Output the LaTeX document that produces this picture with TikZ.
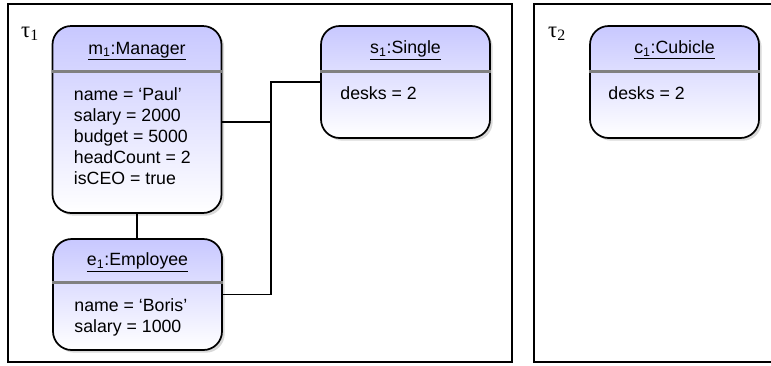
\documentclass[tikz,border=0pt]{standalone}
\usepackage{fontspec}
\setmainfont{Liberation Sans}
\newfontfamily\taufont{Liberation Serif}
\usetikzlibrary{calc,shadows}

\definecolor{objtop}{RGB}{200,200,255}
\definecolor{objmid}{RGB}{226,226,255}

\tikzset{
  objbox/.style={draw, line width=1.3pt, rounded corners=14pt, minimum width=126.75pt,
    inner sep=0pt, top color=objtop, middle color=objmid, bottom color=white,
    drop shadow={opacity=0.3, shadow xshift=2pt, shadow yshift=-2pt}},
  objsep/.style={draw=gray, line width=2.2pt},
  objtitle/.style={font=\fontsize{13.3}{15.75}\selectfont, inner sep=0pt},
  attrs/.style={font=\fontsize{13.3}{15.75}\selectfont, align=left, anchor=north west, inner sep=0pt},
  statelabel/.style={font=\taufont\fontsize{17}{20}\selectfont, inner sep=0pt},
  frame/.style={line width=1.3pt},
  link/.style={line width=1.2pt},
}

\begin{document}
\begin{tikzpicture}[x=0.75pt, y=-0.75pt]
    \useasboundingbox (0,0) rectangle (771,365);

    % the two states
    \draw[frame] (8,4) rectangle (512,362);
    \draw[frame] (775,4) -- (534,4) -- (534,362) -- (775,362);
    \node[statelabel] (tau1) at (30,34) {τ\textsubscript{1}};
    \node[statelabel] (tau2) at (557,34) {τ\textsubscript{2}};

    % m_1
    \node[objbox, minimum height=140.25pt] (m1) at (137,119.5) {};
    \draw[objsep] ($(m1.north west)+(0,46)$) -- ($(m1.north east)+(0,46)$);
    \node[objtitle] (m1t) at ($(m1.north)+(0,26)$) {\underline{m\textsubscript{1}:Manager}};
    \node[attrs] (m1a) at ($(m1.north west)+(22,62)$)
        {name = `Paul'\\ salary = 2000\\ budget = 5000\\ headCount = 2\\ isCEO = true};

    % e_1
    \node[objbox, minimum height=83.25pt] (e1) at (137.5,294.5) {};
    \draw[objsep] ($(e1.north west)+(0,44)$) -- ($(e1.north east)+(0,44)$);
    \node[objtitle] (e1t) at ($(e1.north)+(0,24)$) {\underline{e\textsubscript{1}:Employee}};
    \node[attrs] (e1a) at ($(e1.north west)+(22,60)$) {name = `Boris'\\ salary = 1000};

    % s_1
    \node[objbox, minimum height=84pt] (s1) at (405.5,82) {};
    \draw[objsep] ($(s1.north west)+(0,46)$) -- ($(s1.north east)+(0,46)$);
    \node[objtitle] (s1t) at ($(s1.north)+(0,25)$) {\underline{s\textsubscript{1}:Single}};
    \node[attrs] (s1a) at ($(s1.north west)+(20,61)$) {desks = 2};

    % c_1
    \node[objbox, minimum height=84pt] (c1) at (674.5,82) {};
    \draw[objsep] ($(c1.north west)+(0,46)$) -- ($(c1.north east)+(0,46)$);
    \node[objtitle] (c1t) at ($(c1.north)+(0,25)$) {\underline{c\textsubscript{1}:Cubicle}};
    \node[attrs] (c1a) at ($(c1.north west)+(19,61)$) {desks = 2};

    % links
    \coordinate (j) at (271,122);
    \draw[link, line width=2pt] (m1.south) -- (m1.south |- e1.north);
    \draw[link] (m1.east |- j) -- (j);
    \draw[link] (s1.west) -| (j) |- (e1.east);
  \end{tikzpicture}
\end{document}
